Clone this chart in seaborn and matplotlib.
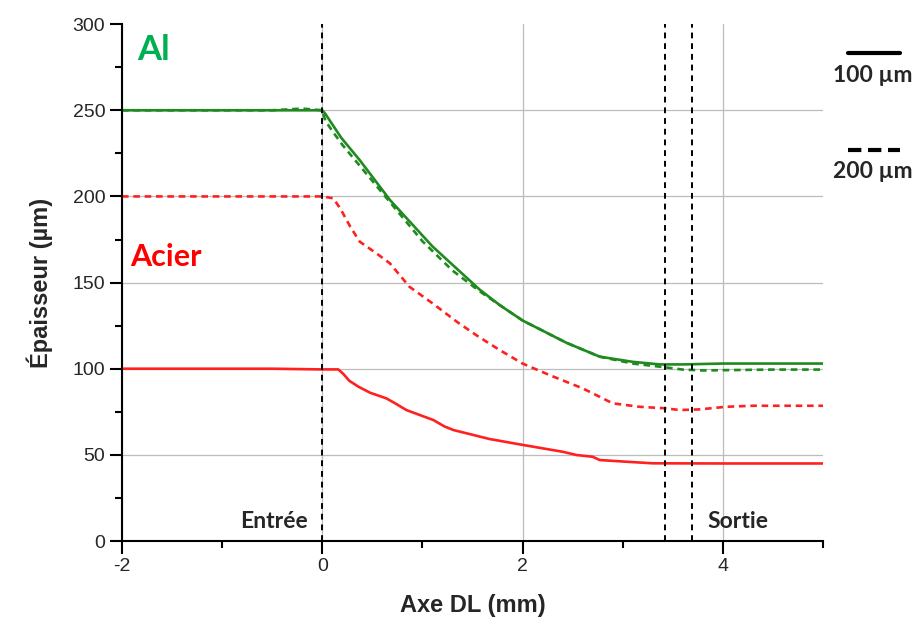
import numpy as np
import pandas as pd
import seaborn as sns
import matplotlib.pyplot as plt
from matplotlib.lines import Line2D
from matplotlib.ticker import MultipleLocator

# Values (x in mm, thickness in µm)
al_100_x = [-2, -0.5, 0, 0.03, 0.19, 0.375, 0.675, 1.1, 1.57, 1.77, 2.0, 2.44, 2.77, 3.1, 3.37, 3.6, 4.0, 5.0]
al_100_y = [250, 250, 250, 248, 234, 221, 198, 171, 146, 137, 128, 115, 107, 104, 102.5, 102.5, 103, 103]

al_200_x = [-2, -0.5, -0.2, 0, 0.03, 0.1, 0.2, 0.4, 0.7, 1.0, 1.3, 1.57, 1.77, 2.0, 2.44, 2.77, 3.1, 3.4, 3.6, 3.8, 4.5, 5.0]
al_200_y = [250, 250, 251, 250, 244, 238, 230, 216, 195, 174, 157, 145, 137, 128, 115, 107, 103, 101, 99.5, 99, 99.5, 99.5]

acier_100_x = [-2, -0.5, 0, 0.16, 0.21, 0.27, 0.36, 0.48, 0.64, 0.74, 0.84, 1.11, 1.22, 1.31, 1.47, 1.67, 1.97, 2.2, 2.4, 2.54, 2.7, 2.77, 3.04, 3.3, 4.0, 5.0]
acier_100_y = [100, 100, 99.6, 99.6, 97, 93, 89.6, 86, 82.8, 79.5, 76, 70.2, 66.5, 64.4, 62.1, 59.2, 56.1, 53.8, 51.8, 49.9, 48.9, 47, 46, 45.1, 45, 45]

acier_200_x = [-2, -0.5, 0, 0.11, 0.18, 0.28, 0.375, 0.54, 0.675, 0.87, 1.1, 1.35, 1.55, 1.77, 2.0, 2.27, 2.6, 2.77, 2.9, 3.17, 3.43, 3.57, 3.77, 4.03, 4.3, 5.0]
acier_200_y = [200, 200, 200, 198.9, 193, 182.4, 173.7, 167, 161.2, 147.6, 138, 127, 119, 110.9, 103, 96.3, 88.6, 83.7, 79.9, 77.9, 77, 76, 76.4, 77.9, 78.5, 78.5]

markers_x = [0, 3.42, 3.69]
xticks = [-2, 0, 2, 4]
yticks = [0, 50, 100, 150, 200, 250, 300]

sns.set_style("white")
plt.rcParams['font.family'] = ['Liberation Sans', 'DejaVu Sans']
plt.rcParams['axes.unicode_minus'] = False

green = '#1f8a1f'
red = '#ff2020'

fig = plt.figure(figsize=(9.17, 6.19), dpi=100)
ax = fig.add_axes([0.133, 0.126, 0.7645, 0.835])

sns.lineplot(x=al_100_x, y=al_100_y, ax=ax, color=green, lw=1.9)
sns.lineplot(x=al_200_x, y=al_200_y, ax=ax, color=green, lw=1.9, linestyle=(0, (2.5, 1.8)))
sns.lineplot(x=acier_100_x, y=acier_100_y, ax=ax, color=red, lw=1.9)
sns.lineplot(x=acier_200_x, y=acier_200_y, ax=ax, color=red, lw=1.9, linestyle=(0, (2.5, 1.8)))

for xv in markers_x:
    ax.axvline(xv, color='black', lw=1.4, linestyle=(0, (3, 2.5)), zorder=3)

ax.set_xlim(-2, 5)
ax.set_ylim(0, 300)
ax.set_xticks(xticks)
ax.set_yticks(yticks)
ax.xaxis.set_minor_locator(MultipleLocator(1))
ax.yaxis.set_minor_locator(MultipleLocator(25))
ax.grid(True, which='major', color='#bcbcbc', lw=0.9)
ax.yaxis.get_gridlines()[-1].set_visible(False)
ax.set_axisbelow(True)

for s in ['top', 'right']:
    ax.spines[s].set_visible(False)
for s in ['left', 'bottom']:
    ax.spines[s].set_color('black')
    ax.spines[s].set_linewidth(1.5)

ax.tick_params(which='major', direction='out', length=9, width=1.5, labelsize=14, pad=3, color='black', left=True, bottom=True)
ax.tick_params(which='minor', direction='out', length=5, width=1.5, color='black', left=True, bottom=True)

ax.set_xlabel('Axe DL (mm)', fontsize=17, fontweight='bold', labelpad=14)
ax.set_ylabel('Épaisseur (µm)', fontsize=17, fontweight='bold', labelpad=14)

lab_font = ['Lato', 'DejaVu Sans']
ax.text(-1.85, 285, 'Al', color='#00b050', fontsize=25, fontweight='bold', family=lab_font, va='center')
ax.text(-1.92, 165, 'Acier', color='#ff0000', fontsize=22, fontweight='bold', family=lab_font, va='center')
ax.text(-0.14, 11.5, 'Entrée', fontsize=16.5, fontweight='bold', family=lab_font, ha='right', va='center')
ax.text(3.85, 11.5, 'Sortie', fontsize=16.5, fontweight='bold', family=lab_font, ha='left', va='center')

# Line style key outside the axes
fig.add_artist(Line2D([0.925, 0.981], [1 - 53 / 619] * 2, color='black', lw=3))
fig.text(0.952, 1 - 75 / 619, '100 µm', fontsize=16.5, fontweight='bold', family=lab_font, ha='center', va='center')
fig.add_artist(Line2D([0.925, 0.981], [1 - 150 / 619] * 2, color='black', lw=3, linestyle=(0, (3.2, 1.6))))
fig.text(0.952, 1 - 172 / 619, '200 µm', fontsize=16.5, fontweight='bold', family=lab_font, ha='center', va='center')

fig.savefig('out.png', dpi=100)
